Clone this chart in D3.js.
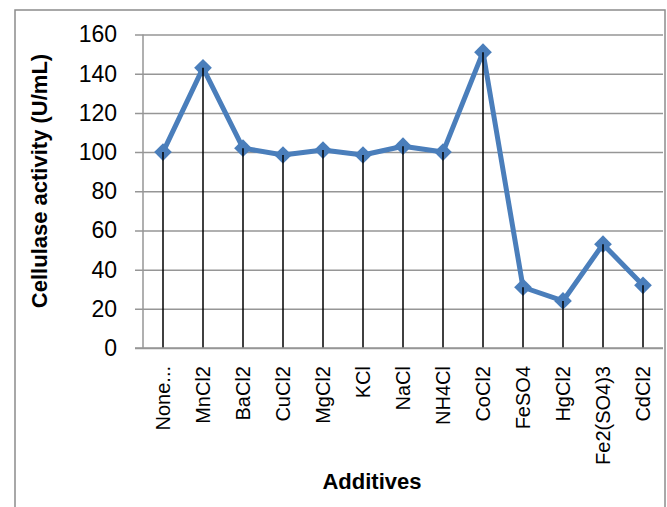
<!DOCTYPE html>
<html>
<head>
<meta charset="utf-8">
<script src="https://cdn.jsdelivr.net/npm/d3@7"></script>
<style>
  body { margin: 0; background: #fff; }
  svg { display: block; }
  text { font-family: "Liberation Sans", Arial, sans-serif; fill: #000; }
</style>
</head>
<body>
<script>
// chart data
var additives = ["None...", "MnCl2", "BaCl2", "CuCl2", "MgCl2", "KCl", "NaCl", "NH4Cl", "CoCl2", "FeSO4", "HgCl2", "Fe2(SO4)3", "CdCl2"];
var activity = [100, 143, 102, 98.5, 101, 98.5, 103, 100, 151, 31, 24, 53, 32];
var yTicks = [0, 20, 40, 60, 80, 100, 120, 140, 160];

var width = 667, height = 507;
var plot = {left: 143, right: 663, top: 34.5, bottom: 348};

var svg = d3.select("body").append("svg")
    .attr("width", width)
    .attr("height", height);

// outer chart frame
svg.append("rect")
    .attr("x", 15).attr("y", 10)
    .attr("width", 650).attr("height", 510)
    .attr("fill", "none")
    .attr("stroke", "#8c8c8c")
    .attr("stroke-width", 1.5);

var x = d3.scaleBand()
    .domain(additives)
    .range([plot.left, plot.right]);

var y = d3.scaleLinear()
    .domain([0, 160])
    .range([plot.bottom, plot.top]);

// gridlines + tick labels
var yAxis = svg.append("g")
    .attr("transform", "translate(" + plot.left + ",0)")
    .call(d3.axisLeft(y).tickValues(yTicks).tickSize(-(plot.right - plot.left)).tickSizeOuter(0).tickPadding(26));
yAxis.select(".domain").remove();
yAxis.selectAll(".tick line")
    .attr("x1", -8)
    .attr("stroke", "#969696")
    .attr("stroke-width", 1.5);
yAxis.selectAll(".tick text")
    .style("font-size", "23px")
    .attr("fill", "#000");

// y axis line
svg.append("line")
    .attr("x1", plot.left).attr("x2", plot.left)
    .attr("y1", plot.top).attr("y2", plot.bottom)
    .attr("stroke", "#969696")
    .attr("stroke-width", 1.5);

// x labels
var xAxis = svg.append("g")
    .attr("transform", "translate(0," + plot.bottom + ")")
    .call(d3.axisBottom(x).tickSize(0));
xAxis.select(".domain").remove();
xAxis.selectAll(".tick text")
    .style("font-size", "20px")
    .attr("text-anchor", "end")
    .attr("transform", "rotate(-90)")
    .attr("x", -18)
    .attr("y", 0)
    .attr("dy", "0.36em");

// the data line
var line = d3.line()
    .x(function (d, i) { return x(additives[i]) + x.bandwidth() / 2; })
    .y(function (d) { return y(d); });

svg.append("path")
    .datum(activity)
    .attr("d", line)
    .attr("fill", "none")
    .attr("stroke", "#4a7ebb")
    .attr("stroke-width", 5)
    .attr("stroke-linejoin", "round");

svg.selectAll(".marker")
    .data(activity)
    .enter()
    .append("path")
    .attr("class", "marker")
    .attr("d", d3.symbol().type(d3.symbolDiamond2).size(200))
    .attr("transform", function (d, i) {
        return "translate(" + (x(additives[i]) + x.bandwidth() / 2) + "," + y(d) + ")";
    })
    .attr("fill", "#4a7ebb");

// drop lines
svg.selectAll(".drop")
    .data(activity)
    .enter()
    .append("line")
    .attr("class", "drop")
    .attr("x1", function (d, i) { return x(additives[i]) + x.bandwidth() / 2; })
    .attr("x2", function (d, i) { return x(additives[i]) + x.bandwidth() / 2; })
    .attr("y1", function (d) { return y(d); })
    .attr("y2", plot.bottom)
    .attr("stroke", "#000")
    .attr("stroke-width", 1.5);

// x axis line on top
svg.append("line")
    .attr("x1", plot.left - 8).attr("x2", plot.right)
    .attr("y1", plot.bottom).attr("y2", plot.bottom)
    .attr("stroke", "#969696")
    .attr("stroke-width", 1.5);

// axis titles
svg.append("text")
    .attr("transform", "translate(47,181) rotate(-90)")
    .attr("text-anchor", "middle")
    .style("font-size", "22px")
    .style("font-weight", "bold")
    .text("Cellulase activity (U/mL)");

svg.append("text")
    .attr("x", 372)
    .attr("y", 489)
    .attr("text-anchor", "middle")
    .style("font-size", "22px")
    .style("font-weight", "bold")
    .text("Additives");
</script>
</body>
</html>
